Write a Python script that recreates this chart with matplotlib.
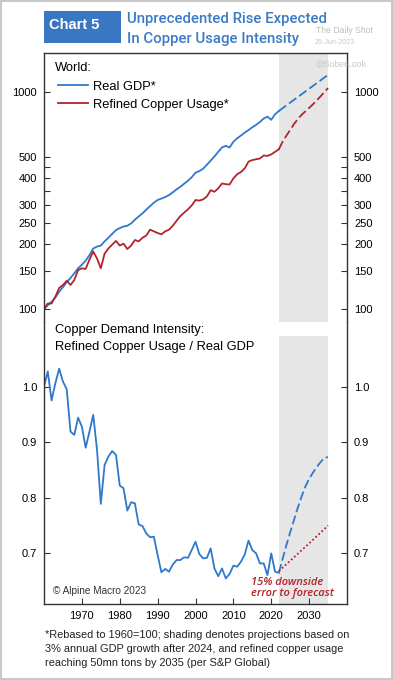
import numpy as np
import matplotlib.pyplot as plt
from matplotlib import font_manager
from matplotlib.patches import Rectangle
from matplotlib.ticker import NullFormatter

installed = {f.name for f in font_manager.fontManager.ttflist}
narrow = 'Liberation Sans Narrow' if 'Liberation Sans Narrow' in installed else 'Roboto'
plt.rcParams['font.family'] = ['Liberation Sans', 'DejaVu Sans']

# ---- data ----
years = np.arange(1960, 2023)
gdp = [100, 104, 108, 113, 120, 126, 133, 139, 146, 154,
       160, 167, 177, 190, 194, 196, 205, 213, 222, 231,
       236, 240, 242, 248, 258, 267, 276, 287, 298, 309,
       318, 323, 328, 335, 345, 356, 366, 378, 390, 405,
       425, 432, 443, 462, 483, 505, 530, 556, 565, 555,
       590, 612, 630, 650, 668, 688, 706, 728, 755, 770,
       745, 790, 818]
copper = [100, 106, 106, 114, 125, 129, 135, 129, 136, 151,
          154, 153, 169, 184, 171, 154, 180, 190, 198, 206,
          196, 200, 189, 196, 208, 205, 213, 218, 232, 228,
          224, 221, 228, 232, 242, 255, 268, 278, 288, 300,
          318, 316, 320, 330, 353, 347, 360, 379, 376, 375,
          400, 418, 428, 445, 478, 486, 490, 494, 510, 508,
          516, 530, 545]
fc_years = np.arange(2022, 2036)
gdp_fc = [818, 843, 868, 894, 921, 948, 977, 1006, 1036, 1067, 1099, 1132, 1166, 1201]
copper_fc = [545, 590, 630, 668, 712, 750, 785, 815, 845, 878, 915, 955, 1000, 1043]

intensity = [1.000, 1.027, 0.975, 1.006, 1.032, 1.009, 0.995, 0.919, 0.913, 0.944,
             0.928, 0.890, 0.919, 0.949, 0.886, 0.789, 0.859, 0.874, 0.884, 0.877,
             0.822, 0.817, 0.777, 0.792, 0.790, 0.752, 0.749, 0.736, 0.729, 0.730,
             0.697, 0.666, 0.672, 0.667, 0.680, 0.688, 0.688, 0.693, 0.692, 0.706,
             0.721, 0.699, 0.691, 0.692, 0.709, 0.673, 0.659, 0.673, 0.655, 0.663,
             0.678, 0.676, 0.685, 0.698, 0.723, 0.706, 0.700, 0.682, 0.682, 0.661,
             0.700, 0.667, 0.665]
intensity_fc = [0.665, 0.690, 0.715, 0.738, 0.760, 0.782, 0.802, 0.820, 0.834, 0.845,
                0.855, 0.864, 0.872, 0.873]
err_years = [2022, 2026, 2030, 2035]
intensity_err = [0.668, 0.693, 0.718, 0.750]

top_ticks = [100, 150, 200, 250, 300, 400, 500, 1000]
bottom_ticks = [0.7, 0.8, 0.9, 1.0]
decades = [1970, 1980, 1990, 2000, 2010, 2020, 2030]

BLUE = '#2F78CC'
RED = '#B3242B'
SHADE = '#E6E6E6'
W, H = 393, 680


def fx(px):
    return px / W


def fy(py):
    return 1 - py / H


fig = plt.figure(figsize=(3.93, 6.80), dpi=100)
fig.patches.append(Rectangle((0.002, 0.001), 0.996, 0.998, transform=fig.transFigure,
                             fill=False, edgecolor='#C8C8C8', lw=1.5))

ax1 = fig.add_axes([fx(44), fy(322), fx(303), (322 - 53) / H])
ax2 = fig.add_axes([fx(44), fy(604), fx(303), (604 - 322) / H])

for ax in (ax1, ax2):
    ax.set_xlim(1960, 2040)
    for s in ax.spines.values():
        s.set_color('#333333')
        s.set_linewidth(1.0)
    ax.axvspan(2022, 2035, ymin=0, ymax=1 if ax is ax1 else 0.95, color=SHADE, lw=0, zorder=0)

# top panel
ax1.set_yscale('log')
ax1.set_ylim(87.1, 1514)
l1, = ax1.plot(years, gdp, color=BLUE, lw=1.3, label='Real GDP*')
ax1.plot(fc_years, gdp_fc, color=BLUE, lw=1.3, dashes=(5, 2))
l2, = ax1.plot(years, copper, color=RED, lw=1.3, label='Refined Copper Usage*')
ax1.plot(fc_years, copper_fc, color=RED, lw=1.3, dashes=(5, 2))
ax1.set_yticks(top_ticks)
ax1.set_yticklabels([str(t) for t in top_ticks])
ax1.set_yticks([350, 450], minor=True)
ax1.yaxis.set_minor_formatter(NullFormatter())
ax1.tick_params(axis='y', which='both', direction='in', left=True, right=True,
                labelleft=True, labelright=True, length=4.3, width=0.8, pad=5,
                labelsize=8, color='#333333')
ax1.tick_params(axis='x', which='both', bottom=False, labelbottom=False)
ax1.spines['bottom'].set_visible(False)
ax1.legend(handles=[l1, l2], loc='upper left', bbox_to_anchor=(0.046, 0.897),
           frameon=False, fontsize=9.3, handlelength=2.3, handletextpad=0.45,
           labelspacing=0.47, borderpad=0, borderaxespad=0)

# bottom panel
ax2.set_ylim(0.609, 1.116)
ax2.plot(years, intensity, color=BLUE, lw=1.3)
ax2.plot(fc_years, intensity_fc, color=BLUE, lw=1.3, dashes=(5, 2))
ax2.plot(err_years, intensity_err, color=RED, lw=1.3, dashes=(1, 1.3))
ax2.set_yticks(bottom_ticks)
ax2.set_yticklabels(['%.1f' % t for t in bottom_ticks])
ax2.set_xticks(decades)
ax2.set_xticklabels([str(d) for d in decades])
ax2.tick_params(axis='y', direction='in', left=True, right=True, labelleft=True,
                labelright=True, length=4.3, width=0.8, pad=5, labelsize=8, color='#333333')
ax2.tick_params(axis='x', direction='in', length=4.3, width=0.8, pad=5, labelsize=8,
                color='#333333')
ax2.spines['top'].set_visible(False)

# header
fig.patches.append(Rectangle((fx(44), fy(43)), fx(77), 32 / H, transform=fig.transFigure,
                             facecolor='#3A77C2', edgecolor='none'))
fig.text(fx(49), fy(29.3), 'Chart 5', color='white', fontsize=10.5, fontweight='bold',
         va='baseline')
fig.text(fx(127), fy(23.3), 'Unprecedented Rise Expected', color='#3B7BC6', fontsize=10.8,
         fontweight='medium', family=[narrow, 'DejaVu Sans'], va='baseline')
fig.text(fx(127), fy(42.7), 'In Copper Usage Intensity', color='#3B7BC6', fontsize=10.8,
         fontweight='medium', family=[narrow, 'DejaVu Sans'], va='baseline')
fig.text(fx(316), fy(33.3), 'The Daily Shot', color='#BDBDBD', fontsize=6.2, va='baseline')
fig.text(fx(315), fy(44.3), '29-Jun-2023', color='#C8C8C8', fontsize=5, va='baseline')
fig.text(fx(315), fy(66), '@SoberLook', color='#C8C8C8', fontsize=6.2, va='baseline')

# panel labels
fig.text(fx(55), fy(70.7), 'World:', fontsize=9.3, va='baseline')
fig.text(fx(55), fy(333.3), 'Copper Demand Intensity:', fontsize=9.3, va='baseline')
fig.text(fx(55), fy(350), 'Refined Copper Usage / Real GDP', fontsize=9.3, va='baseline')
fig.text(fx(53), fy(594.3), '\u00a9 Alpine Macro 2023', fontsize=7.2, color='#333333',
         va='baseline')
fig.text(fx(251), fy(585), '15% downside', fontsize=8, color=RED, style='italic',
         fontweight='semibold', family=['Open Sans', 'DejaVu Sans'], va='baseline')
fig.text(fx(251), fy(596), 'error to forecast', fontsize=8, color=RED, style='italic',
         fontweight='semibold', family=['Open Sans', 'DejaVu Sans'], va='baseline')

# footnote
notes = ['*Rebased to 1960=100; shading denotes projections based on',
         '3% annual GDP growth after 2024, and refined copper usage',
         'reaching 50mn tons by 2035 (per S&P Global)']
for i, line in enumerate(notes):
    fig.text(fx(45), fy(638.5 + 14 * i), line, fontsize=7.9, color='#222222', va='baseline')

fig.savefig('out.png', dpi=100)
